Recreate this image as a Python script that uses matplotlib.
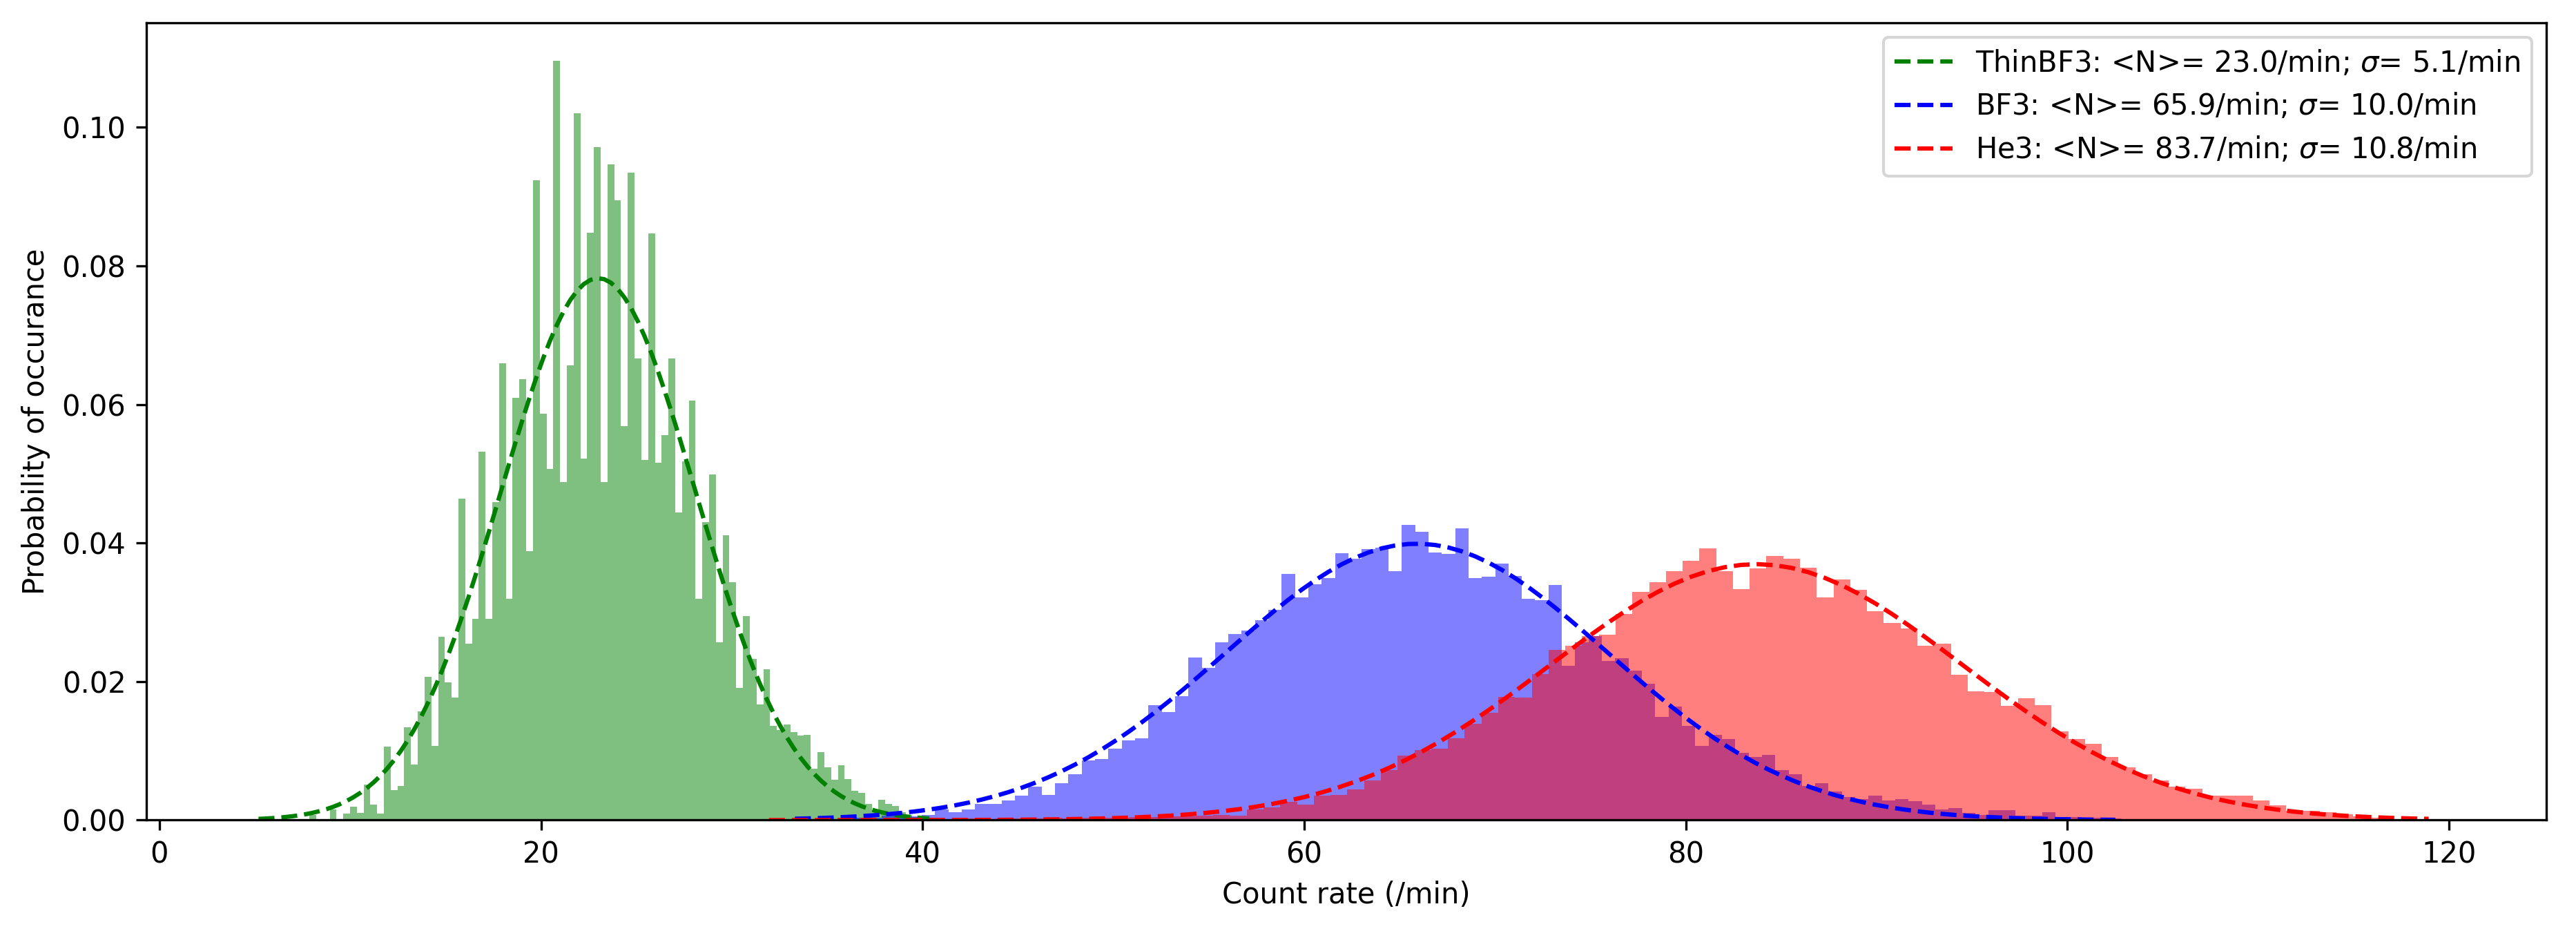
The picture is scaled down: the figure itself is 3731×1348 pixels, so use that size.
import numpy as np
import matplotlib
matplotlib.use('Agg')
import matplotlib.pyplot as plt

# histogram ranges (min, max count rate) and bin heights (probability density), 100 bins each
thin_range = (5.02, 40.53)
thin_hist = [0, 0, 0, 0, 0, 0, 0, 0, 0.0007, 0,
             0, 0.0015, 0, 0.0009, 0.0019, 0.0010, 0.0051, 0.0022, 0.0009, 0.0106,
             0.0043, 0.0049, 0.0134, 0.0080, 0.0157, 0.0207, 0.0107, 0.0265, 0.0199, 0.0177,
             0.0464, 0.0255, 0.0291, 0.0532, 0.0291, 0.0459, 0.0659, 0.0319, 0.0610, 0.0636,
             0.0388, 0.0924, 0.0587, 0.0507, 0.1096, 0.0488, 0.0656, 0.1020, 0.0522, 0.0848,
             0.0971, 0.0488, 0.0946, 0.0895, 0.0569, 0.0935, 0.0666, 0.0520, 0.0847, 0.0516,
             0.0556, 0.0666, 0.0444, 0.0518, 0.0606, 0.0319, 0.0430, 0.0499, 0.0257, 0.0411,
             0.0343, 0.0191, 0.0295, 0.0233, 0.0167, 0.0218, 0.0136, 0.0130, 0.0138, 0.0127,
             0.0122, 0.0123, 0.0074, 0.0098, 0.0076, 0.0058, 0.0079, 0.0059, 0.0042, 0.0039,
             0.0023, 0.0014, 0.0029, 0.0023, 0.0020, 0.0011, 0.0007, 0.0004, 0.0002, 0.0003]

bf3_range = (32.96, 102.86)
bf3_hist = [0.0001, 0, 0.0001, 0.0001, 0.0002, 0.0003, 0.0003, 0.0006, 0.0007, 0.0005,
            0.0007, 0.0015, 0.0011, 0.0015, 0.0023, 0.0023, 0.0028, 0.0035, 0.0048, 0.0036,
            0.0053, 0.0066, 0.0086, 0.0088, 0.0103, 0.0115, 0.0118, 0.0166, 0.0156, 0.0179,
            0.0235, 0.0220, 0.0257, 0.0269, 0.0274, 0.0289, 0.0303, 0.0355, 0.0321, 0.0340,
            0.0349, 0.0385, 0.0377, 0.0391, 0.0393, 0.0359, 0.0426, 0.0416, 0.0386, 0.0384,
            0.0421, 0.0349, 0.0351, 0.0370, 0.0352, 0.0319, 0.0317, 0.0339, 0.0223, 0.0257,
            0.0266, 0.0230, 0.0234, 0.0216, 0.0197, 0.0149, 0.0164, 0.0136, 0.0107, 0.0123,
            0.0117, 0.0097, 0.0091, 0.0094, 0.0072, 0.0066, 0.0049, 0.0053, 0.0041, 0.0033,
            0.0030, 0.0035, 0.0028, 0.0030, 0.0027, 0.0022, 0.0015, 0.0017, 0.0010, 0.0007,
            0.0014, 0.0014, 0.0006, 0.0006, 0.0011, 0.0004, 0.0004, 0.0003, 0.0003, 0.0002]

he3_range = (31.51, 119.37)
he3_hist = [0.0001, 0, 0, 0.0001, 0, 0.0001, 0.0001, 0.0001, 0.0001, 0.0001,
            0.0001, 0.0001, 0.0002, 0.0001, 0.0002, 0.0002, 0.0002, 0.0003, 0.0002, 0.0003,
            0.0003, 0.0003, 0.0004, 0.0004, 0.0005, 0.0005, 0.0006, 0.0007, 0.0006, 0.0015,
            0.0018, 0.0026, 0.0022, 0.0035, 0.0036, 0.0044, 0.0057, 0.0072, 0.0093, 0.0101,
            0.0103, 0.0118, 0.0139, 0.0155, 0.0178, 0.0177, 0.0211, 0.0246, 0.0252, 0.0266,
            0.0268, 0.0298, 0.0329, 0.0343, 0.0359, 0.0374, 0.0392, 0.0359, 0.0333, 0.0363,
            0.0381, 0.0377, 0.0364, 0.0321, 0.0347, 0.0332, 0.0302, 0.0285, 0.0277, 0.0252,
            0.0255, 0.0210, 0.0186, 0.0185, 0.0165, 0.0176, 0.0166, 0.0128, 0.0117, 0.0110,
            0.0091, 0.0076, 0.0066, 0.0057, 0.0048, 0.0045, 0.0035, 0.0035, 0.0035, 0.0028,
            0.0021, 0.0013, 0.0013, 0.0011, 0.0008, 0.0005, 0.0003, 0.0001, 0.0001, 0.0001]

# gaussian fit parameters shown in the legend
names = ['ThinBF3', 'BF3', 'He3']
means = [23.0, 65.9, 83.7]
sigmas = [5.1, 10.0, 10.8]
colors = ['g', 'b', 'r']

fig = plt.figure(figsize=(3731 / 300, 1348 / 300), dpi=300)
ax = fig.add_axes([0.0567, 0.1191, 0.9317, 0.8564])

sets = [(thin_range, thin_hist), (bf3_range, bf3_hist), (he3_range, he3_hist)]
for (rng, h), mu, sig, c, name in zip(sets, means, sigmas, colors, names):
    edges = np.linspace(rng[0], rng[1], len(h) + 1)
    centers = (edges[:-1] + edges[1:]) / 2
    ax.hist(centers, bins=edges, weights=h, color=c, alpha=0.5)
    fit = np.exp(-0.5 * ((centers - mu) / sig) ** 2) / (sig * np.sqrt(2 * np.pi))
    ax.plot(centers, fit, c + '--',
            label=f'{name}: <N>= {mu:.1f}/min; $\\sigma$= {sig:.1f}/min')

ax.set_xlabel('Count rate (/min)')
ax.set_ylabel('Probability of occurance')
ax.legend(loc='upper right')

fig.savefig('out.png', dpi=300)
